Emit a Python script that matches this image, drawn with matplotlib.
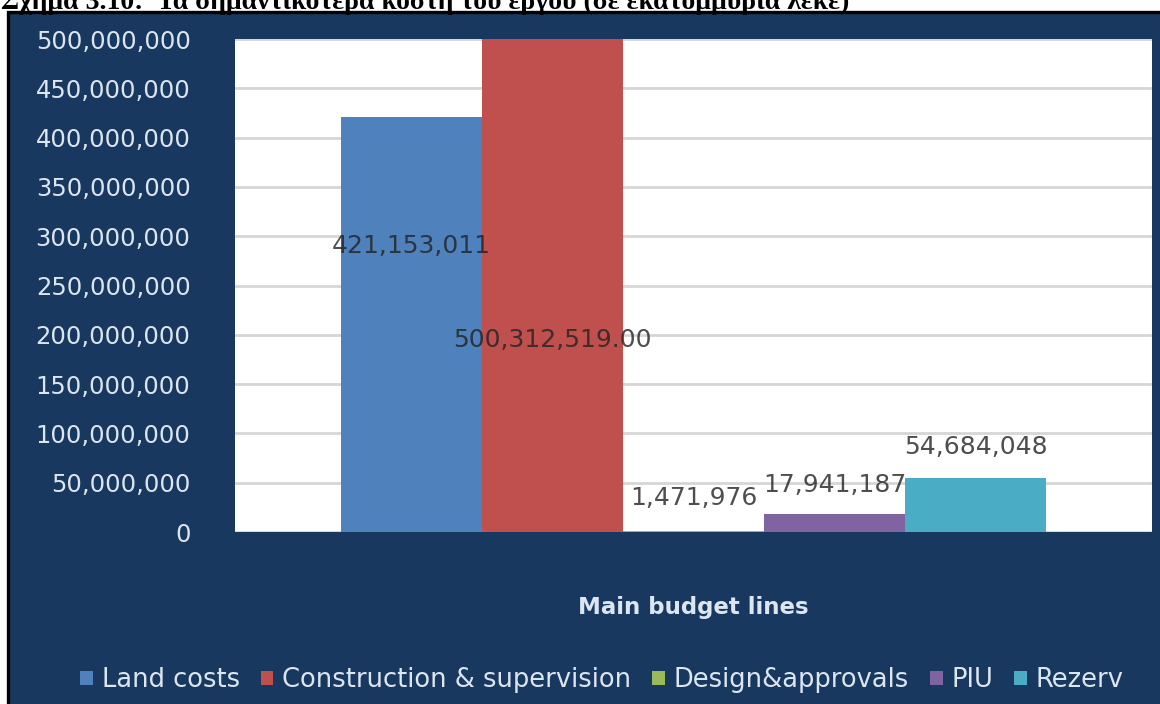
import numpy as np
import matplotlib.pyplot as plt
from matplotlib.patches import Rectangle
from matplotlib.ticker import FuncFormatter

# main budget lines of the project (lek)
series = ['Land costs', 'Construction & supervision', 'Design&approvals', 'PIU', 'Rezerv']
costs = [421153011, 500312519.00, 1471976, 17941187, 54684048]
decimals = [0, 2, 0, 0, 0]
category = 'Main budget lines'
caption = 'Σχήμα 3.10:  Τα σημαντικότερα κόστη του έργου (σε εκατομμύρια λέκε)'
y_ticks = np.arange(0, 500000001, 50000000)

# where each value label sits on the y axis (moved by hand in the original sheet)
label_y = [290e6, 195e6, 34e6, 48e6, 86e6]
colors = ['#4f81bd', '#c0504d', '#9bbb59', '#8064a2', '#4bacc6']
navy = '#19385f'
light = '#dce6f2'

W, H = 1160, 704
fig = plt.figure(figsize=(W / 100, H / 100), dpi=100)
fig.patch.set_facecolor('white')

# caption above the chart, cut off by the top edge
fig.text(1 / W, 1 - 9 / H, caption, family='Liberation Serif', weight='bold',
         fontsize=20, ha='left', va='baseline', color='black')

# dark chart area with black frame
top = 1 - 11.5 / H
fig.add_artist(Rectangle((8 / W, -0.05), 1.1, top + 0.05, transform=fig.transFigure,
                         facecolor=navy, edgecolor='black', linewidth=2.4, zorder=0))

ax = fig.add_axes([235 / W, 1 - 532 / H, (1152 - 235) / W, (532 - 39) / H])
ax.set_facecolor('white')

w = 1 / 6.5
for i, (name, c) in enumerate(zip(series, costs)):
    ax.bar((i - 2) * w, c, width=w, color=colors[i], label=name, zorder=2)

for i, c in enumerate(costs):
    txt = f'{c:,.{decimals[i]}f}'
    ax.text((i - 2) * w, label_y[i], txt, ha='center', va='center', fontsize=18,
            color='#222222', alpha=0.8, zorder=3)

ax.set_xlim(-0.5, 0.5)
ax.set_ylim(0, 500e6)
ax.set_yticks(y_ticks)
ax.yaxis.set_major_formatter(FuncFormatter(lambda v, p: f'{v:,.0f}'))
ax.yaxis.grid(True, color='#d6d6d6', linewidth=2.0)
ax.set_axisbelow(True)
for s in ax.spines.values():
    s.set_visible(False)
ax.tick_params(axis='y', length=0, pad=32, labelsize=17.5, labelcolor=light)

ax.set_xticks([0], [category])
ax.tick_params(axis='x', length=0, pad=46, labelsize=16.5, labelcolor=light)
for lab in ax.get_xticklabels():
    lab.set_fontweight('bold')

fig.legend(loc='center', bbox_to_anchor=(602 / W, 1 - 680 / H), ncol=5, frameon=False,
           fontsize=18.5, labelcolor=light, handlelength=0.5, handleheight=0.5,
           handletextpad=0.35, columnspacing=0.8)

plt.savefig('out.png', dpi=100)
